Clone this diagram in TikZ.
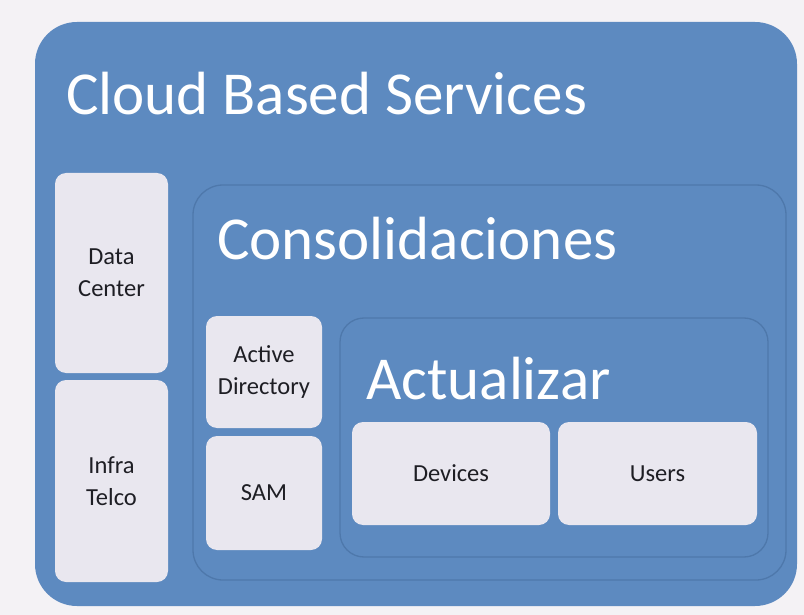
\documentclass[tikz,border=0pt]{standalone}
\usepackage{fontspec}
\setmainfont{Carlito}
\definecolor{bgpaper}{HTML}{F4F2F5}
\definecolor{cloudblue}{HTML}{5D8AC0}
\definecolor{edgeblue}{HTML}{4E78AB}
\definecolor{boxwhite}{HTML}{E9E7EF}
\definecolor{txtdark}{HTML}{1E1E24}
\begin{document}
\begin{tikzpicture}[x=1pt,y=-1pt,
  panel/.style={draw=edgeblue,line width=1.3pt,fill=cloudblue},
  itembox/.style={fill=boxwhite,draw=none,rounded corners=11pt,align=center,
     text=txtdark,font=\fontsize{24.5}{32}\selectfont,inner sep=0pt},
  bigtitle/.style={text=white,anchor=base west,inner sep=0pt,
     font=\fontsize{61}{70}\selectfont}]
\useasboundingbox (0,0) rectangle (804,615);
\fill[bgpaper] (0,0) rectangle (804,615);
% outer panel
\fill[cloudblue,rounded corners=42pt] (35,22) rectangle (797,606);
\node[bigtitle] (t1) at (66,115) {Cloud Based Services};
% consolidaciones panel
\draw[panel,rounded corners=30pt] (193,185) rectangle (786,580);
\node[bigtitle] (t2) at (217,259) {Consolidaciones};
% actualizar panel
\draw[panel,rounded corners=24pt] (340,318) rectangle (768,557);
\node[bigtitle] (t3) at (366,399) {Actualizar};
% boxes
\node[itembox,minimum width=113pt,minimum height=200pt] (dc) at (111.5,273) {Data\\Center};
\node[itembox,minimum width=113pt,minimum height=202pt] (it) at (111.5,481) {Infra\\Telco};
\node[itembox,minimum width=116pt,minimum height=112pt] (ad) at (264,372) {Active\\Directory};
\node[itembox,minimum width=116pt,minimum height=114pt] (sam) at (264,493) {SAM};
\node[itembox,minimum width=198pt,minimum height=103pt] (dev) at (451,473.5) {Devices};
\node[itembox,minimum width=199pt,minimum height=103pt] (usr) at (657.5,473.5) {Users};
\end{tikzpicture}
\end{document}
